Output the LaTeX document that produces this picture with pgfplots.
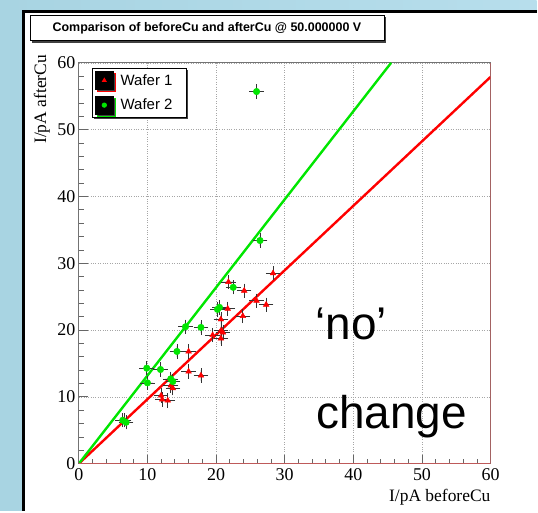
\documentclass[border=0pt]{standalone}
\usepackage{fontspec}
\setmainfont{Liberation Serif}
\newfontfamily\arial{Liberation Sans}
\usepackage{pgfplots}
\pgfplotsset{compat=1.18}
\usetikzlibrary{shadows}
\definecolor{bgblue}{RGB}{183,222,236}
\definecolor{bgblueL}{RGB}{168,212,226}
\definecolor{rootred}{RGB}{255,0,0}
\definecolor{rootgreen}{RGB}{0,230,0}
\definecolor{framered}{RGB}{190,90,90}
\begin{document}
\begin{tikzpicture}
% background
\shade[left color=bgblueL, right color=bgblue] (0bp,0bp) rectangle (538bp,512bp);
\fill[white] (22bp,0bp) rectangle (538bp,502bp);
\draw[black, line width=3bp] (23.5bp,0bp) -- (23.5bp,500.5bp) -- (538bp,500.5bp);
% title box
\node[draw=black, line width=0.8bp, fill=white, minimum width=355bp, minimum height=26bp,
      drop shadow={shadow xshift=2bp, shadow yshift=-2bp, fill=black!75, opacity=1},
      font=\arial\bfseries\fontsize{12.5bp}{14bp}\selectfont] at (207.5bp,484bp)
      {Comparison of beforeCu and afterCu @ 50.000000 V};
\begin{axis}[
  at={(79bp,47bp)}, anchor=south west,
  scale only axis, width=413bp, height=402bp,
  xmin=0, xmax=60, ymin=0, ymax=60,
  xtick={0,10,...,60}, ytick={0,10,...,60},
  minor x tick num=4, minor y tick num=4,
  xtick pos=left, ytick pos=left,
  tick align=inside,
  major tick length=9bp, minor tick length=5bp,
  tick style={black!60, line width=0.8bp},
  axis line style={black!55, line width=1bp},
  grid=major,
  major grid style={black!35, dotted, line width=0.6bp},
  /pgf/number format/assume math mode=true,
  ticklabel style={font=\fontsize{18bp}{20bp}\selectfont},
  xticklabel style={yshift=-1bp},
  xlabel={I/pA beforeCu},
  ylabel={I/pA afterCu},
  label style={font=\fontsize{17.5bp}{19bp}\selectfont},
  xlabel style={at={(axis description cs:1,-0.0833)}, anchor=east, inner sep=0pt},
  ylabel style={at={(axis description cs:-0.0896,1.02)}, anchor=east, inner sep=0pt},
  legend style={at={(axis description cs:0.031,0.988)}, anchor=north west,
     draw=black, line width=0.8bp, fill=white,
     drop shadow={shadow xshift=2bp, shadow yshift=-2bp, fill=black!75, opacity=1},
     font=\arial\fontsize{15bp}{17bp}\selectfont,
     inner xsep=3bp, inner ysep=3bp, row sep=6bp, cells={anchor=west},
     /tikz/every odd column/.append style={column sep=5bp}},
  legend image code/.code={
     \fill[black] (0bp,-9bp) rectangle (18bp,9bp);
     \draw[#1, mark repeat=1, mark size=2.2bp] plot coordinates {(9bp,0bp)};
  },
  clip=true,
]
% fit lines
\addplot[rootred, line width=2.4bp, forget plot] coordinates {(0,0) (60,57.9)};
\addplot[rootgreen, line width=2.4bp, forget plot] coordinates {(0,0) (45.5,60)};
% Wafer 1
\addplot[only marks, mark=triangle*, mark size=3.3bp, color=rootred, fill=rootred,
  error bars/.cd, x dir=both, x fixed=0.8, y dir=both, y fixed=0.8,
  error bar style={black!80, line width=0.7bp},
  error mark options={black!80, mark size=1.8bp, line width=0.7bp}]
  coordinates {
  (28.3,28.5) (21.8,27.2) (24.1,25.9) (25.9,24.4) (27.3,23.8)
  (21.7,23.2) (23.9,22.1) (20.7,21.6) (19.5,19.25) (20.7,19.9)
  (21.0,19.65) (20.7,18.75) (16.0,16.8) (16.0,13.8) (17.8,13.2)
  (13.7,11.3) (13.4,11.7) (12.0,10.2) (12.15,9.6) (12.97,9.45)
  (6.6,6.5)
  };
\addlegendentry{Wafer 1\hspace*{9bp}}
% Wafer 2
\addplot[only marks, mark=*, mark size=3.3bp, color=rootgreen, fill=rootgreen,
  error bars/.cd, x dir=both, x fixed=0.8, y dir=both, y fixed=0.8,
  error bar style={black!80, line width=0.7bp},
  error mark options={black!80, mark size=1.8bp, line width=0.7bp}]
  coordinates {
  (25.9,55.7) (26.4,33.4) (22.5,26.4) (20.2,23.1) (20.5,23.4)
  (15.55,20.5) (17.8,20.4) (14.3,16.8) (9.9,14.3) (11.9,14.1)
  (10.0,12.1) (13.4,12.7) (13.7,12.3) (6.4,6.5) (6.9,6.2)
  };
\addlegendentry{Wafer 2\hspace*{9bp}}
\draw[framered, line width=1bp] (rel axis cs:0,0) -- (rel axis cs:1,0) -- (rel axis cs:1,1);
\end{axis}
% annotations
\node[anchor=base west, inner sep=0pt, font=\arial\fontsize{46bp}{50bp}\selectfont] at (316bp,172bp) {‘no’};
\node[anchor=base west, inner sep=0pt, font=\arial\fontsize{46bp}{50bp}\selectfont] at (317bp,82bp) {change};
\useasboundingbox (0bp,0bp) rectangle (538bp,512bp);
\end{tikzpicture}
\end{document}
